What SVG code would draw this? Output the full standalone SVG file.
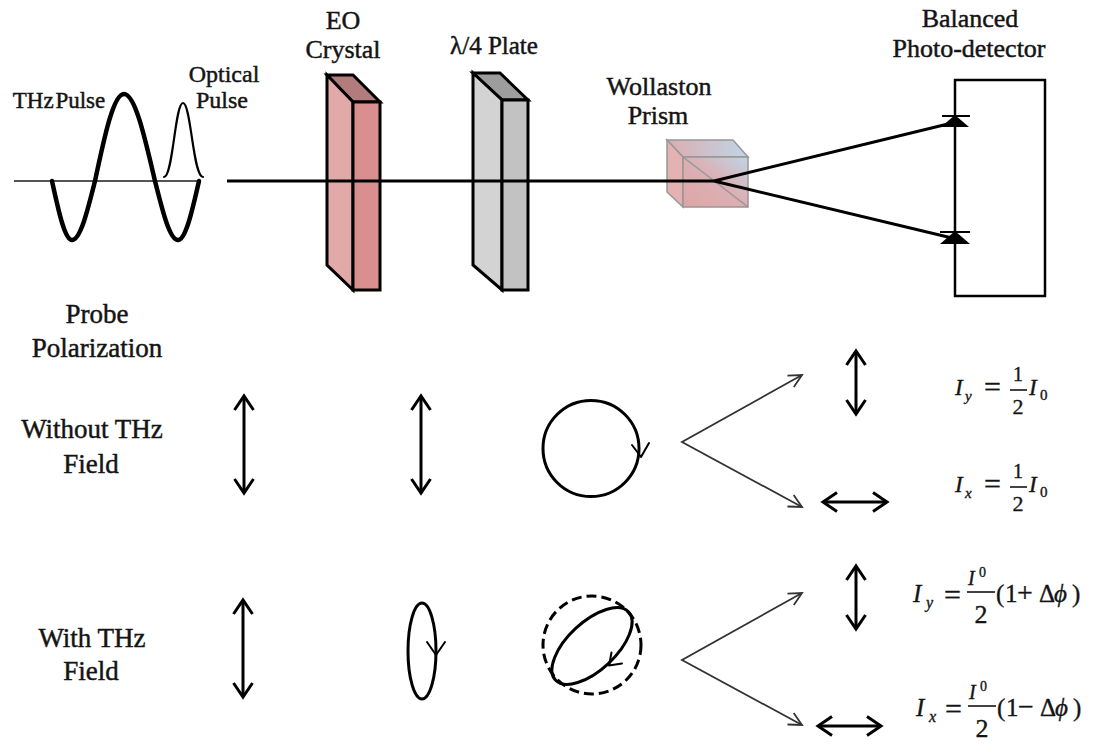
<svg xmlns="http://www.w3.org/2000/svg" width="1097" height="752" viewBox="0 0 1097 752" font-family="'Liberation Serif', 'Times New Roman', serif">
  <style>
    .lbl { font-family: "Liberation Serif", "Times New Roman", serif; fill: #141414; stroke: #141414; stroke-width: 0.45; text-anchor: middle; }
    .top { font-size: 26px; }
    .side { font-size: 27px; }
    .eq { font-family: "Liberation Serif", "Times New Roman", serif; fill: #141414; stroke: #141414; stroke-width: 0.35; }
    .it { font-style: italic; }
    .ink { fill: none; stroke: #000; stroke-linecap: round; stroke-linejoin: round; }
    .edge { stroke: #000; stroke-width: 3; stroke-linejoin: miter; }
    .pol { fill: none; stroke: #000; stroke-width: 3; }
    .dbl { fill: none; stroke: #000; stroke-width: 3; marker-start: url(#head); marker-end: url(#head); }
    .split { fill: none; stroke: #333; stroke-width: 1.8; marker-start: url(#thin); marker-end: url(#thin); }
    .beam { fill: none; stroke: #000; stroke-width: 3; }
  </style>
  <defs>
    <!-- open chevron used on both ends of polarization arrows -->
    <marker id="head" markerUnits="userSpaceOnUse" viewBox="-18 -12 20 24" markerWidth="20" markerHeight="24" refX="0" refY="0" orient="auto-start-reverse" overflow="visible">
      <path d="M-14,-9.5 L0,0 L-14,9.5" fill="none" stroke="#000" stroke-width="3" stroke-linejoin="miter"/>
    </marker>
    <!-- small open head for the splitting lines -->
    <marker id="thin" markerUnits="userSpaceOnUse" viewBox="-15 -9 17 18" markerWidth="17" markerHeight="18" refX="0" refY="0" orient="auto-start-reverse" overflow="visible">
      <path d="M-13,-6.5 L0,0 L-13,6.5" fill="none" stroke="#333" stroke-width="1.8"/>
    </marker>
    <linearGradient id="prismFront" x1="0" y1="1" x2="1" y2="0">
      <stop offset="0" stop-color="#dc9c9c"/>
      <stop offset="0.55" stop-color="#d7a9ae"/>
      <stop offset="1" stop-color="#b8d2e4"/>
    </linearGradient>
    <linearGradient id="prismTop" x1="0" y1="0" x2="1" y2="0">
      <stop offset="0" stop-color="#d8a4a8"/>
      <stop offset="1" stop-color="#b9d2e4"/>
    </linearGradient>
  </defs>

  <rect width="1097" height="752" fill="#fff"/>

  <!-- ===== top optical path ===== -->
  <g id="thz-pulse">
    <line x1="14" y1="181" x2="201" y2="181" stroke="#555" stroke-width="2"/>
    <path class="ink" stroke-width="4.5" d="M52,181 C58.5,211 64.8,240 72,240 C80.3,240 87.5,211 95,181 C104.5,136 113.5,94 124,94 C135.2,94 144.9,138 155,181 C162.5,211 169.7,240 178,240 C185.6,240 192.2,211 199,181"/>
    <text class="lbl" x="59" y="108" font-size="23" word-spacing="-4">THz Pulse</text>
  </g>

  <g id="optical-pulse">
    <path class="ink" stroke-width="2.2" d="M164,177 C173,177 175,103 183,103 C191,103 193,177 203,177"/>
    <text class="lbl" x="224" y="82" font-size="24">Optical</text>
    <text class="lbl" x="222" y="108" font-size="24">Pulse</text>
  </g>

  <g id="eo-crystal">
    <polygon class="edge" fill="#b37c7c" points="327,75 353,75 380,102 353,102"/>
    <polygon class="edge" fill="#e2a9a9" points="327,75 353,102 353,290 327,265"/>
    <rect class="edge" fill="#d98f8f" x="353" y="102" width="27" height="188"/>
    <text class="lbl top" x="343" y="29">EO</text>
    <text class="lbl top" x="343" y="58">Crystal</text>
  </g>

  <g id="quarter-wave-plate">
    <polygon class="edge" fill="#9d9d9d" points="473,73 500,73 528,100 502,100"/>
    <polygon class="edge" fill="#d3d3d3" points="473,73 502,100 502,290 473,265"/>
    <rect class="edge" fill="#c2c2c2" x="502" y="100" width="26" height="190"/>
    <text class="lbl" x="494" y="54" font-size="25">λ/4 Plate</text>
  </g>

  <g id="wollaston-prism">
    <g stroke="#8c8c8c" stroke-width="1.5" opacity="0.9">
      <polygon fill="url(#prismTop)" points="667,140 733,140 748,157 683,157"/>
      <polygon fill="#e3aaaa" points="667,140 683,157 683,207 667,192"/>
      <rect fill="url(#prismFront)" x="683" y="157" width="65" height="50"/>
      <line x1="683" y1="157" x2="748" y2="207"/>
    </g>
    <text class="lbl top" x="659" y="95">Wollaston</text>
    <text class="lbl top" x="658" y="124">Prism</text>
  </g>

  <g id="balanced-detector">
    <rect x="955" y="80" width="90" height="216" fill="#fff" stroke="#000" stroke-width="2.5"/>
    <!-- photodiodes on the input side -->
    <line x1="942" y1="116" x2="970" y2="116" stroke="#000" stroke-width="2"/>
    <polygon points="955,115 941,127 969,127" fill="#000"/>
    <line x1="940" y1="232" x2="970" y2="232" stroke="#000" stroke-width="2"/>
    <polygon points="955,231 940,244 970,244" fill="#000"/>
    <text class="lbl top" x="970" y="27">Balanced</text>
    <text class="lbl top" x="969" y="57">Photo-detector</text>
  </g>

  <!-- ===== polarization table ===== -->
  <g id="row-labels">
    <text class="lbl side" x="97" y="323">Probe</text>
    <text class="lbl side" x="97" y="357">Polarization</text>
    <text class="lbl side" x="92" y="438">Without THz</text>
    <text class="lbl side" x="91" y="473">Field</text>
    <text class="lbl side" x="92" y="647">With THz</text>
    <text class="lbl side" x="91" y="680">Field</text>
  </g>

  <g id="pol-input">
    <line class="dbl" x1="244" y1="396" x2="244" y2="493"/>
    <line class="dbl" x1="243" y1="600" x2="243" y2="697"/>
  </g>

  <g id="pol-after-crystal">
    <line class="dbl" x1="421" y1="396" x2="421" y2="493"/>
    <ellipse class="pol" cx="422" cy="651" rx="14" ry="48"/>
    <path class="ink" stroke-width="2" d="M427,642 L436,655 L445,642"/>
  </g>

  <g id="pol-after-plate">
    <circle class="pol" cx="591" cy="448.5" r="48"/>
    <path class="ink" stroke-width="2" d="M632,445 L641,457 L649,443"/>
    <circle cx="592" cy="645" r="49" fill="none" stroke="#000" stroke-width="3" stroke-dasharray="10 5"/>
    <ellipse class="pol" cx="592" cy="646" rx="50" ry="24" transform="rotate(-43 592 646)"/>
    <path class="ink" stroke-width="2" d="M611.5,652.5 L609,665.5 L622,663.5"/>
  </g>

  <g id="pol-outputs">
    <line class="dbl" x1="856" y1="351" x2="856" y2="414"/>
    <line class="dbl" x1="823" y1="502" x2="887" y2="502"/>
    <line class="dbl" x1="856" y1="566" x2="856" y2="629"/>
    <line class="dbl" x1="818" y1="726" x2="881" y2="726"/>
  </g>

  <g id="eq-no-field">
    <text class="eq" font-size="23"><tspan class="it" x="955" y="395">I</tspan><tspan class="it" x="965" y="401" font-size="15">y</tspan></text>
    <text class="eq" x="984" y="397" font-size="30">=</text>
    <text class="eq" x="1018" y="381" font-size="20" text-anchor="middle">1</text>
    <line x1="1010" y1="390" x2="1027" y2="390" stroke="#141414" stroke-width="1.6"/>
    <text class="eq" x="1018" y="414" font-size="22" text-anchor="middle">2</text>
    <text class="eq" font-size="23"><tspan class="it" x="1029" y="395">I</tspan><tspan x="1040" y="400" font-size="15">0</tspan></text>

    <text class="eq" font-size="23"><tspan class="it" x="955" y="492">I</tspan><tspan class="it" x="965" y="498" font-size="15">x</tspan></text>
    <text class="eq" x="984" y="494" font-size="30">=</text>
    <text class="eq" x="1018" y="478" font-size="20" text-anchor="middle">1</text>
    <line x1="1010" y1="487" x2="1027" y2="487" stroke="#141414" stroke-width="1.6"/>
    <text class="eq" x="1018" y="511" font-size="22" text-anchor="middle">2</text>
    <text class="eq" font-size="23"><tspan class="it" x="1029" y="492">I</tspan><tspan x="1040" y="497" font-size="15">0</tspan></text>
  </g>

  <g id="eq-with-field">
    <text class="eq" font-size="25"><tspan class="it" x="913" y="602">I</tspan><tspan class="it" x="926" y="608" font-size="16">y</tspan></text>
    <text class="eq" x="944" y="605" font-size="30">=</text>
    <text class="eq" font-size="20"><tspan class="it" x="968" y="585">I</tspan><tspan x="979" y="577" font-size="14">0</tspan></text>
    <line x1="967" y1="592" x2="995" y2="592" stroke="#141414" stroke-width="1.6"/>
    <text class="eq" x="981" y="623" font-size="26" text-anchor="middle">2</text>
    <text class="eq" font-size="25" y="602"><tspan x="996">(</tspan><tspan x="1005">1</tspan><tspan x="1017" font-size="28">+</tspan><tspan x="1039">Δ</tspan><tspan class="it" x="1054">ϕ</tspan><tspan x="1072">)</tspan></text>

    <text class="eq" font-size="25"><tspan class="it" x="916" y="716">I</tspan><tspan class="it" x="929" y="722" font-size="16">x</tspan></text>
    <text class="eq" x="945" y="719" font-size="30">=</text>
    <text class="eq" font-size="20"><tspan class="it" x="969" y="699">I</tspan><tspan x="980" y="691" font-size="14">0</tspan></text>
    <line x1="968" y1="706" x2="996" y2="706" stroke="#141414" stroke-width="1.6"/>
    <text class="eq" x="982" y="737" font-size="26" text-anchor="middle">2</text>
    <text class="eq" font-size="25" y="716"><tspan x="997">(</tspan><tspan x="1006">1</tspan><tspan x="1018" font-size="28">−</tspan><tspan x="1040">Δ</tspan><tspan class="it" x="1055">ϕ</tspan><tspan x="1073">)</tspan></text>
  </g>

  <!-- ===== beam and splitting connectors ===== -->
  <g id="connectors">
    <line class="beam" x1="227" y1="181" x2="714" y2="181"/>
    <path class="beam" d="M952,123 L714,181 L952,238" stroke-linejoin="miter"/>
    <path class="split" d="M802,375 L682,442 L802,507"/>
    <path class="split" d="M802,593 L682,660 L802,725"/>
  </g>
</svg>
